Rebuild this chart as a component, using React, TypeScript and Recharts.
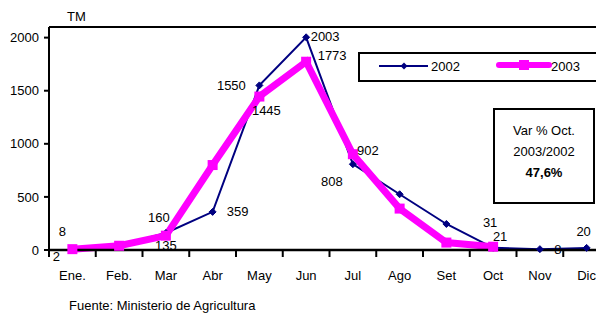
import React from "react";
import { LineChart, Line, XAxis, YAxis, ReferenceLine, LabelList, Legend } from "recharts";

const months = ["Ene.", "Feb.", "Mar", "Abr", "May", "Jun", "Jul", "Ago", "Set", "Oct", "Nov", "Dic"];
const values2002 = [2, 45, 160, 359, 1550, 2003, 808, 525, 245, 21, 8, 20];
const values2003: (number | null)[] = [8, 40, 135, 800, 1445, 1773, 902, 390, 70, 31, null, null];
const yTicks = [0, 500, 1000, 1500, 2000];
const seriesNames = ["2002", "2003"];

const data = months.map((m, i) => ({ month: m, s2002: values2002[i], s2003: values2003[i] }));

const FONT = "'Liberation Sans', Arial, sans-serif";
const FS = 13;
const NAVY = "#000080";
const MAGENTA = "#FF00FF";

const CHART_W = 615;
const CHART_H = 316;
const MARGIN = { top: 27, right: 5, bottom: 36, left: 9 };
const Y_W = 40;
const BAND = (CHART_W - MARGIN.left - MARGIN.right - Y_W) / months.length;

const labelOffsets2002: Record<number, [number, number]> = {
  0: [-16, 7], 2: [-7, -16], 3: [25, 0], 4: [-28, 0], 5: [19, -1], 6: [-21, 17], 9: [7, -11], 10: [18, 0], 11: [-3, -16],
};
const labelOffsets2003: Record<number, [number, number]> = {
  0: [-10, -18], 2: [0, 10], 4: [7, 14], 5: [26, -6], 6: [15, -4], 9: [-3, -24],
};

const makeLabel = (offsets: Record<number, [number, number]>) => (props: any) => {
  const { x, y, value, index } = props;
  const off = offsets[index];
  if (!off || value == null) return null;
  return (
    <text x={x + off[0]} y={y + off[1]} textAnchor="middle" dominantBaseline="central" fontSize={FS} fontFamily={FONT} fill="#000">
      {value}
    </text>
  );
};

const Diamond = (props: any) => {
  const { cx, cy } = props;
  if (cx == null || cy == null) return null;
  const r = 3.5;
  return <polygon points={`${cx},${cy - r} ${cx + r},${cy} ${cx},${cy + r} ${cx - r},${cy}`} fill={NAVY} stroke={NAVY} />;
};

const Square = (props: any) => {
  const { cx, cy, value } = props;
  if (cx == null || cy == null || value == null) return null;
  return <rect x={cx - 5} y={cy - 5} width={10} height={10} fill={MAGENTA} />;
};

const XTick = (props: any) => {
  const { x, payload } = props;
  return (
    <g>
      <line x1={x - BAND / 2} x2={x - BAND / 2} y1={250} y2={257} stroke="#000" strokeWidth={2} />
      <text x={x} y={280} textAnchor="middle" fontSize={FS} fontFamily={FONT} fill="#000">
        {payload.value}
      </text>
    </g>
  );
};

const LegendBox = () => (
  <div
    style={{
      position: "absolute",
      left: 0,
      top: 0,
      width: 250,
      height: 26,
      border: "2px solid #000",
      background: "#fff",
    }}
  >
    <svg width={250} height={26} style={{ position: "absolute", left: 0, top: 0 }}>
      <line x1={19} x2={68} y1={12} y2={12} stroke={NAVY} strokeWidth={2} />
      <polygon points="44,8.5 47.5,12 44,15.5 40.5,12" fill={NAVY} />
      <text x={71} y={17} fontSize={FS} fontFamily={FONT} fill="#000">{seriesNames[0]}</text>
      <line x1={139} x2={189} y1={11} y2={11} stroke={MAGENTA} strokeWidth={6} strokeLinecap="round" />
      <rect x={159} y={6} width={10} height={10} fill={MAGENTA} />
      <text x={191} y={17} fontSize={FS} fontFamily={FONT} fill="#000">{seriesNames[1]}</text>
    </svg>
  </div>
);

export default function App() {
  return (
    <div style={{ position: "absolute", left: 0, top: 0, width: 596, height: 316, overflow: "hidden", background: "#fff" }}>
      <LineChart width={CHART_W} height={CHART_H} data={data} margin={MARGIN}>
        <XAxis
          dataKey="month"
          stroke="#000"
          strokeWidth={2.5}
          tickLine={false}
          tick={<XTick />}
          height={30}
          interval={0}
          padding={{ left: BAND / 2, right: BAND / 2 }}
        />
        <YAxis
          domain={[0, 2100]}
          ticks={yTicks}
          width={Y_W}
          stroke="#000"
          strokeWidth={2}
          tickSize={5}
          tickMargin={5}
          tick={{ fontSize: FS, fontFamily: FONT, fill: "#000" }}
          tickLine={{ stroke: "#000", strokeWidth: 2 }}
        />
        <ReferenceLine y={2100} stroke="#000" strokeWidth={2} ifOverflow="extendDomain" />
        <Legend
          layout="horizontal"
          verticalAlign="middle"
          align="center"
          content={() => <LegendBox />}
          wrapperStyle={{ position: "absolute", left: 358, top: 52, width: 254, height: 30 }}
        />
        <Line
          dataKey="s2002"
          name={seriesNames[0]}
          stroke={NAVY}
          strokeWidth={2}
          dot={<Diamond />}
          activeDot={false}
          isAnimationActive={false}
        >
          <LabelList dataKey="s2002" content={makeLabel(labelOffsets2002)} />
        </Line>
        <Line
          dataKey="s2003"
          name={seriesNames[1]}
          stroke={MAGENTA}
          strokeWidth={7}
          strokeLinejoin="miter"
          dot={<Square />}
          activeDot={false}
          connectNulls={false}
          isAnimationActive={false}
        >
          <LabelList dataKey="s2003" content={makeLabel(labelOffsets2003)} />
        </Line>
      </LineChart>
      <div style={{ position: "absolute", left: 67, top: 9, fontFamily: FONT, fontSize: FS, color: "#000" }}>TM</div>
      <div
        style={{
          position: "absolute",
          left: 493,
          top: 108,
          width: 98,
          height: 82,
          border: "2px solid #000",
          background: "#fff",
          fontFamily: FONT,
          fontSize: FS,
          color: "#000",
          textAlign: "center",
          lineHeight: "21px",
          paddingTop: 10,
          boxSizing: "content-box",
        }}
      >
        <div>Var % Oct.</div>
        <div>2003/2002</div>
        <div style={{ fontWeight: "bold" }}>47,6%</div>
      </div>
      <div style={{ position: "absolute", left: 69, top: 298, fontFamily: FONT, fontSize: FS, color: "#000" }}>
        Fuente: Ministerio de Agricultura
      </div>
    </div>
  );
}
